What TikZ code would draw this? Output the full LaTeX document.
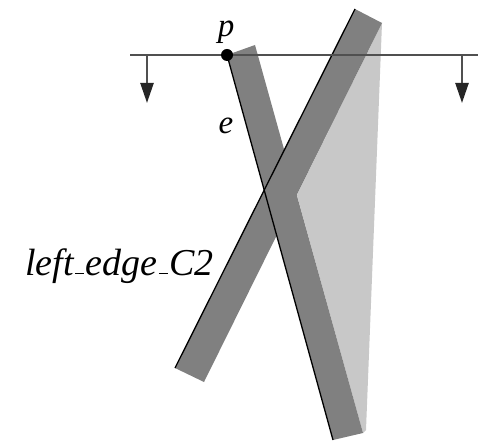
\documentclass[tikz,border=0pt]{standalone}
\usepackage{fontspec}
\setmainfont{Liberation Serif}
\usetikzlibrary{arrows.meta}
\definecolor{bandgray}{HTML}{808080}
\definecolor{lightgray2}{HTML}{C8C8C8}
\definecolor{linegray}{HTML}{505050}
\newcommand{\lowdash}{\kern1.5pt\rule[1.5pt]{9pt}{1.8pt}\kern1.5pt}
\tikzset{
  band/.style={fill=bandgray, draw=none},
  bandedge/.style={draw=black, line width=1.3pt},
  sweep/.style={draw=linegray, line width=2.4pt},
  downarrow/.style={draw=linegray, line width=2.4pt, -{Triangle[length=20pt,width=13pt,color=black!85]}},
  lbl/.style={font=\fontsize{33}{38}\selectfont\itshape, inner sep=0pt, anchor=base},
  biglbl/.style={font=\fontsize{38}{42}\selectfont\itshape, inner sep=0pt, anchor=base west}
}
\begin{document}
\begin{tikzpicture}[x=1pt,y=-1pt]
\useasboundingbox (0,0) rectangle (481,443);
% coordinates
\coordinate (e1a) at (227,55);
\coordinate (e1b) at (255,45);
\coordinate (e1c) at (363,433);
\coordinate (e1d) at (333,440);
\coordinate (c2a) at (175,368);
\coordinate (c2b) at (204,382);
\coordinate (c2c) at (382,23);
\coordinate (c2d) at (355,9);
\coordinate (v) at (297,195);
\coordinate (l1) at (130,55);
\coordinate (l2) at (478,55);
\coordinate (a1s) at (147,55);
\coordinate (a1e) at (147,103);
\coordinate (a2s) at (462,55);
\coordinate (a2e) at (462,103);
% light triangle
\fill[lightgray2] (c2c) -- (366,430) -- (e1c) -- (v) -- cycle;
% bands
\path[band] (c2a) -- (c2b) -- (c2c) -- (c2d) -- cycle;
\path[band] (e1a) -- (e1b) -- (e1c) -- (e1d) -- cycle;
\draw[bandedge] (c2a) -- (c2d);
\draw[bandedge] (e1a) -- (e1d);
% sweep line
\draw[sweep] (l1) -- (l2);
\draw[downarrow] (a1s) -- (a1e);
\draw[downarrow] (a2s) -- (a2e);
\fill[black] (e1a) circle (6pt);
% labels
\node[lbl] (p) at (226,37) {p};
\node[lbl] (e) at (226,134) {e};
\node[biglbl] (lc2) at (25,276) {left\lowdash edge\lowdash C2};
\end{tikzpicture}
\end{document}
